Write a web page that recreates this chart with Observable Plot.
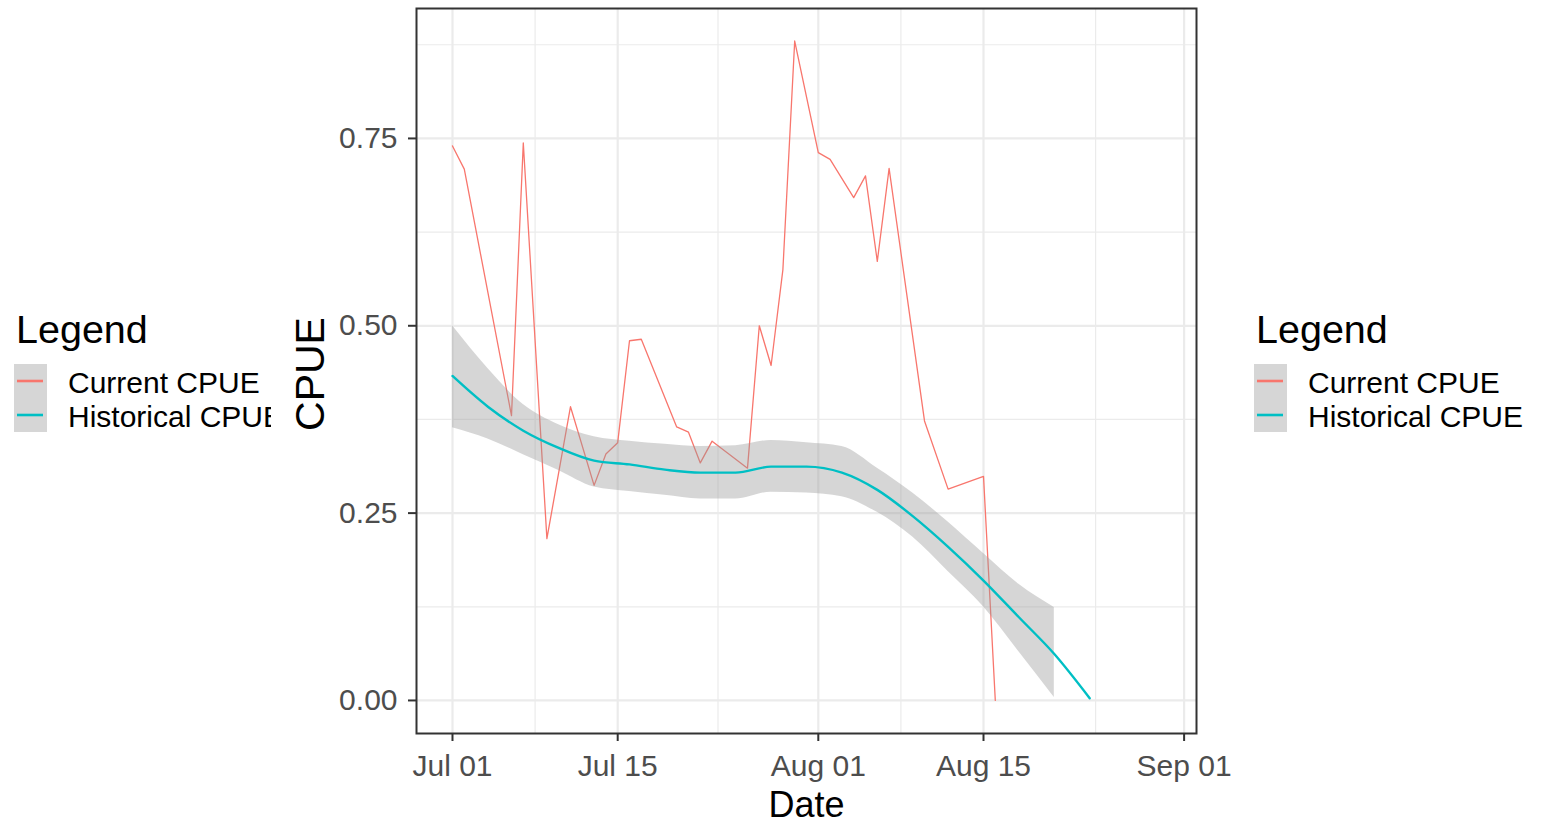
<!DOCTYPE html>
<html><head><meta charset="utf-8">
<script src="https://cdn.jsdelivr.net/npm/d3@7"></script>
<script src="https://cdn.jsdelivr.net/npm/@observablehq/plot@0.6"></script>
<style>
body{margin:0;background:#fff;font-family:"Liberation Sans",Arial,sans-serif;}
#wrap{position:relative;width:1544px;height:826px;overflow:hidden;}
#wrap svg{position:absolute;left:0;top:0;}
</style></head><body><div id="wrap"></div>
<script>
// ---- data ----
const currentDates = ["2021-07-01","2021-07-02","2021-07-06","2021-07-07","2021-07-09","2021-07-11","2021-07-13","2021-07-14","2021-07-15","2021-07-16","2021-07-17","2021-07-20","2021-07-21","2021-07-22","2021-07-23","2021-07-26","2021-07-27","2021-07-28","2021-07-29","2021-07-30","2021-08-01","2021-08-02","2021-08-04","2021-08-05","2021-08-06","2021-08-07","2021-08-10","2021-08-12","2021-08-15","2021-08-16"];
const currentCPUE = [0.740,0.709,0.380,0.744,0.216,0.392,0.287,0.329,0.344,0.480,0.482,0.365,0.358,0.317,0.346,0.310,0.500,0.447,0.575,0.880,0.731,0.722,0.671,0.700,0.586,0.710,0.373,0.282,0.299,0.000];

const histDates = ["2021-07-01","2021-07-04","2021-07-07","2021-07-10","2021-07-13","2021-07-16","2021-07-19","2021-07-22","2021-07-25","2021-07-28","2021-07-31","2021-08-03","2021-08-06","2021-08-09","2021-08-12","2021-08-15","2021-08-18","2021-08-21","2021-08-24"];
const histCPUE = [0.433,0.392,0.360,0.337,0.320,0.315,0.308,0.304,0.304,0.312,0.312,0.304,0.281,0.246,0.205,0.160,0.111,0.062,0.003];

const ribbonDates = ["2021-07-01","2021-07-04","2021-07-07","2021-07-10","2021-07-13","2021-07-16","2021-07-19","2021-07-22","2021-07-25","2021-07-28","2021-07-31","2021-08-03","2021-08-06","2021-08-09","2021-08-12","2021-08-15","2021-08-18","2021-08-21"];
const ribbonLow  = [0.364,0.349,0.328,0.307,0.285,0.279,0.274,0.269,0.269,0.278,0.277,0.272,0.251,0.218,0.172,0.125,0.065,0.004];
const ribbonHigh = [0.500,0.443,0.395,0.368,0.352,0.346,0.342,0.339,0.340,0.347,0.344,0.339,0.310,0.277,0.238,0.196,0.155,0.124];

const xTickDates = ["2021-07-01","2021-07-15","2021-08-01","2021-08-15","2021-09-01"];
const xMinorDates = ["2021-07-08T00:00Z","2021-07-23T12:00Z","2021-08-08T00:00Z","2021-08-24T12:00Z"];
const yTicks = [0, 0.25, 0.5, 0.75];
const yMinor = [0.125, 0.375, 0.625, 0.875];
const seriesNames = ["Current CPUE", "Historical CPUE"];
const seriesColors = ["#F8766D", "#00BFC4"];

// ---- build ----
const parse = d3.isoParse;
const current = currentDates.map((d, i) => ({date: parse(d), value: currentCPUE[i]}));
const hist = histDates.map((d, i) => ({date: parse(d), value: histCPUE[i]}));
const ribbon = ribbonDates.map((d, i) => ({date: parse(d), low: ribbonLow[i], high: ribbonHigh[i]}));
const xTicks = xTickDates.map(parse);
const xMinor = xMinorDates.map(parse);

const chart = Plot.plot({
  width: 1544, height: 826,
  marginLeft: 416, marginRight: 348, marginTop: 8, marginBottom: 93,
  style: {fontFamily: "'Liberation Sans', Arial, sans-serif", background: "transparent", overflow: "visible"},
  x: {type: "utc", domain: [parse("2021-06-27T22:48Z"), parse("2021-09-02T01:12Z")]},
  y: {domain: [-0.0441, 0.9234]},
  marks: [
    Plot.ruleX(xMinor, {stroke: "#EBEBEB", strokeWidth: 1.2}),
    Plot.ruleY(yMinor, {stroke: "#EBEBEB", strokeWidth: 1.2}),
    Plot.ruleX(xTicks, {stroke: "#EBEBEB", strokeWidth: 2.2}),
    Plot.ruleY(yTicks, {stroke: "#EBEBEB", strokeWidth: 2.2}),
    Plot.line(current, {x: "date", y: "value", stroke: seriesColors[0], strokeWidth: 1.3}),
    Plot.areaY(ribbon, {x: "date", y1: "low", y2: "high", fill: "#999999", fillOpacity: 0.4, curve: "monotone-x"}),
    Plot.line(hist, {x: "date", y: "value", stroke: seriesColors[1], strokeWidth: 2.4, curve: "monotone-x"}),
    Plot.frame({stroke: "#333333", strokeWidth: 2}),
    Plot.axisX({ticks: xTicks, tickFormat: d3.utcFormat("%b %d"), tickSize: 8, tickPadding: 13,
      fontSize: 30, stroke: "#333333", strokeWidth: 2, fill: "#4D4D4D", label: null}),
    Plot.axisY({ticks: yTicks, tickFormat: d3.format(".2f"), tickSize: 8, tickPadding: 11,
      fontSize: 30, stroke: "#333333", strokeWidth: 2, fill: "#4D4D4D", label: null}),
    Plot.text(["Date"], {text: d => d, frameAnchor: "bottom", dy: 58, lineAnchor: "top", fontSize: 36, fill: "black"}),
    Plot.text(["CPUE"], {text: d => d, frameAnchor: "left", dx: -122, dy: 3, textAnchor: "middle", lineAnchor: "top", rotate: -90, fontSize: 41, fill: "black"})
  ]
});
const wrap = document.getElementById("wrap");
wrap.appendChild(chart);

// ---- legends (two copies; left one clipped as in the reference) ----
const ns = "http://www.w3.org/2000/svg";
const ov = document.createElementNS(ns, "svg");
ov.setAttribute("width", 1544); ov.setAttribute("height", 826);
ov.setAttribute("style", "font-family:'Liberation Sans', Arial, sans-serif;pointer-events:none;");
const defs = document.createElementNS(ns, "defs");
const cp = document.createElementNS(ns, "clipPath"); cp.setAttribute("id", "clipL");
const cr = document.createElementNS(ns, "rect");
cr.setAttribute("x", 0); cr.setAttribute("y", 0); cr.setAttribute("width", 271); cr.setAttribute("height", 826);
cp.appendChild(cr); defs.appendChild(cp); ov.appendChild(defs);

function el(tag, attrs, parent, txt) {
  const e = document.createElementNS(ns, tag);
  for (const k in attrs) e.setAttribute(k, attrs[k]);
  if (txt != null) e.textContent = txt;
  parent.appendChild(e);
  return e;
}
function legend(x0, clip) {
  const g = el("g", clip ? {"clip-path": "url(#clipL)"} : {}, ov);
  el("text", {x: x0 + 1, y: 343, "font-size": 39.5, fill: "black"}, g, "Legend");
  el("rect", {x: x0 - 1, y: 364, width: 33, height: 68, fill: "#D6D6D6"}, g);
  seriesNames.forEach((name, i) => {
    const yy = 381 + i * 34;
    el("line", {x1: x0 + 2, x2: x0 + 28, y1: yy, y2: yy, stroke: seriesColors[i], "stroke-width": 2.6}, g);
    el("text", {x: x0 + 53, y: yy + 12, "font-size": 30, fill: "black"}, g, name);
  });
}
legend(15, true);
legend(1255, false);
wrap.appendChild(ov);
</script></body></html>
